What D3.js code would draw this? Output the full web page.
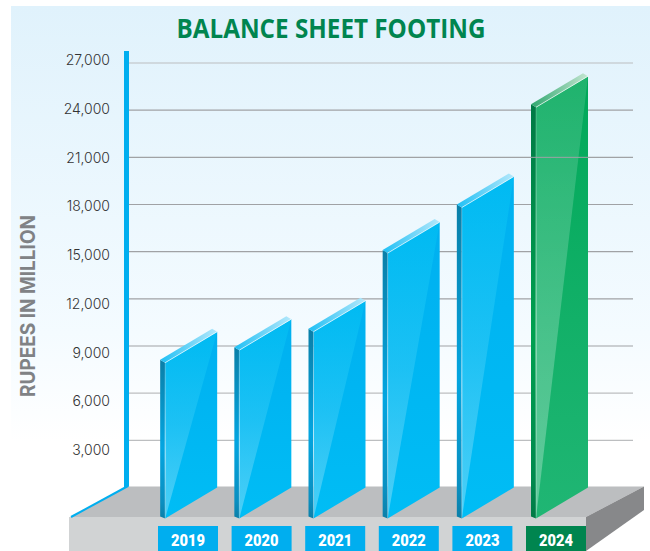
<!DOCTYPE html>
<html><head><meta charset="utf-8">
<style>html,body{margin:0;padding:0;background:#fff}svg{display:block}</style>
<script src="https://cdn.jsdelivr.net/npm/d3@7"></script></head><body>
<script>
const years = ["2019","2020","2021","2022","2023","2024"];
const values = [10100,10900,12070,17070,19970,26350];
const ticks = [3000,6000,9000,12000,15000,18000,21000,24000,27000];
const title = "BALANCE SHEET FOOTING";
const yTitle = "RUPEES IN MILLION";
const W=650,H=551;
const svg=d3.select("body").append("svg").attr("width",W).attr("height",H);
const defs=svg.append("defs");
const bg=defs.append("linearGradient").attr("id","bg").attr("x1",0).attr("x2",0).attr("y1",0).attr("y2",1);
bg.append("stop").attr("offset",0).attr("stop-color","#e0f2fc");
bg.append("stop").attr("offset",.6).attr("stop-color","#f4fbff");
bg.append("stop").attr("offset",.8).attr("stop-color","#ffffff");
function grad(id,stops,x2,y2){const g=defs.append("linearGradient").attr("id",id).attr("x1",0).attr("y1",0).attr("x2",x2).attr("y2",y2);
 stops.forEach(s=>g.append("stop").attr("offset",s[0]).attr("stop-color",s[1]).attr("stop-opacity",s[2]===undefined?1:s[2]));}
grad("sheenB",[[0,"#00c4f5",.5],[.5,"#30c8f5",.6],[1,"#80dcf8",.6]],0,1);
grad("sheenG",[[0,"#fff",.12],[1,"#fff",.3]],0,1);
grad("mainB",[[0,"#00b0f0"],[1,"#00bdf5"]],0,1);
grad("mainG",[[0,"#00a859"],[.55,"#12b068"],[1,"#20b674"]],0,1);
grad("capB",[[0,"#1fc0f5"],[1,"#b5e8fb"]],1,0);
grad("capG",[[0,"#2fa86f"],[1,"#c5e6d2"]],1,0);
grad("sideB",[[0,"#0a7fa8"],[.55,"#03a5e0"],[.9,"#0a8fc0"],[1,"#0b7fa8"]],0,1);
grad("sideG",[[0,"#007a45"],[.55,"#00a050"],[.9,"#008a4e"],[1,"#007a45"]],0,1);
grad("edge",[[0,"#fff",.2],[.6,"#fff",.65],[1,"#fff",.25]],0,1);

const y=d3.scaleLinear().domain([0,27000]).range([487.5,63]);
const yLabel=d3.scaleLinear().domain([3000,27000]).range([455,65]);
const x=d3.scaleBand().domain(years).range([143,588]);
const xLabel=d3.scaleBand().domain(years).range([158,599.6]);
const depthX=52,depthY=31,sideW=5,labelW=60;

svg.append("rect").attr("x",11).attr("y",6).attr("width",W-11).attr("height",H-6).attr("fill","url(#bg)");

svg.append("text").attr("x",331).attr("y",37.5).attr("text-anchor","middle")
 .attr("font-family","'Open Sans'").attr("font-weight",700).attr("font-size",26).attr("fill","#00854f")
 .attr("textLength",309).attr("lengthAdjust","spacingAndGlyphs").text(title);

svg.append("g").selectAll("line").data(ticks).join("line")
 .attr("x1",129).attr("x2",633).attr("y1",d=>y(d)).attr("y2",d=>y(d))
 .attr("stroke",d=>(d===27000||d<=6000)?"#bcbec0":"#a0a2a5").attr("stroke-width",1.2);

svg.append("g").selectAll("text").data(ticks).join("text")
 .attr("x",110).attr("y",d=>yLabel(d)).attr("text-anchor","end")
 .attr("font-family","Inter").attr("font-weight",300).attr("font-size",14).attr("fill","#333")
 .text(d3.format(","));

svg.append("text").attr("transform","translate(35,306) rotate(-90)").attr("text-anchor","middle")
 .attr("font-family","Inter").attr("font-weight",700).attr("font-size",20).attr("fill","#808285")
 .attr("textLength",182).attr("lengthAdjust","spacingAndGlyphs").text(yTitle);

svg.append("rect").attr("x",124).attr("y",51).attr("width",5).attr("height",436.5).attr("fill","#00aeef");

const base=y(0);
const poly=(pts,fill)=>svg.append("polygon").attr("points",pts.map(p=>p.join(",")).join(" ")).attr("fill",fill);
poly([[71,517],[127,486.5],[644,486.5],[586,517]],"#bcbec0");
poly([[69,517],[586,517],[586,551],[69,551]],"#d1d3d4");
poly([[586,517],[644,486.5],[644,510],[586,551]],"#87888a");
svg.append("line").attr("x1",71).attr("y1",517).attr("x2",128).attr("y2",486).attr("stroke","#00aeef").attr("stroke-width",2);

const g=svg.append("g").selectAll("g").data(years.map((yr,i)=>({yr,v:values[i],green:yr==="2024"}))).join("g");
g.each(function(d){
 const s=d3.select(this),br=x(d.yr)+x.bandwidth(),fl=br-depthX,top=y(d.v);
 const P=(pts,fill)=>s.append("polygon").attr("points",pts.map(p=>p.join(",")).join(" ")).attr("fill",fill);
 P([[fl,base+depthY],[br,base],[br,top+3],[fl,top+depthY+3]],d.green?"url(#mainG)":"url(#mainB)");
 P([[fl,base+depthY],[fl,top+depthY+3],[br,top+3]],d.green?"url(#sheenG)":"url(#sheenB)");
 P([[fl-sideW,base+depthY-2],[fl,base+depthY],[fl,top+depthY+3],[fl-sideW,top+depthY]],d.green?"url(#sideG)":"url(#sideB)");
 P([[fl-sideW,top+depthY],[br-5,top],[br,top+3],[fl,top+depthY+3]],d.green?"url(#capG)":"url(#capB)");
 P([[fl-.5,base+depthY],[fl-.5,top+depthY+3],[fl+.5,top+depthY+3],[fl+.5,base+depthY]],"url(#edge)");
 s.append("line").attr("x1",fl).attr("y1",top+depthY+3).attr("x2",br).attr("y2",top+3)
  .attr("stroke","#fff").attr("stroke-opacity",.65).attr("stroke-width",1);
 s.append("rect").attr("x",xLabel(d.yr)).attr("y",526).attr("width",labelW).attr("height",25)
  .attr("fill",d.green?"#00854f":"#00aeef");
 s.append("text").attr("x",xLabel(d.yr)+labelW/2).attr("y",546).attr("text-anchor","middle")
  .attr("font-family","Roboto").attr("font-weight",900).attr("font-size",17).attr("fill","#fff")
  .attr("textLength",34).attr("lengthAdjust","spacingAndGlyphs").text(d.yr);
});
const last=x("2024");
svg.append("line").attr("x1",last+x.bandwidth()-depthX-sideW).attr("x2",last+x.bandwidth())
 .attr("y1",y(21000)).attr("y2",y(21000)).attr("stroke","#a0a2a5").attr("stroke-width",1);
</script></body></html>
